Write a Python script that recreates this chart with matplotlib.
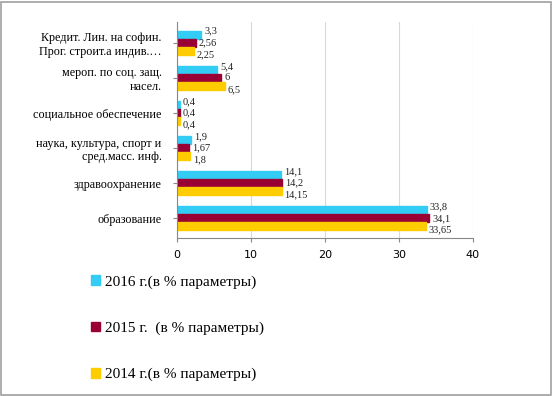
import matplotlib.pyplot as plt
import numpy as np
from matplotlib.patches import Rectangle

categories = ["образование", "здравоохранение",
              "наука, культура, спорт и\nсред.масс. инф.",
              "социальное обеспечение",
              "мероп. по соц. защ.\nнасел.",
              "Кредит. Лин. на софин.\nПрог. строит.а индив.…"]
v2016 = [33.8, 14.1, 1.9, 0.4, 5.4, 3.3]
v2015 = [34.1, 14.2, 1.67, 0.4, 6, 2.56]
v2014 = [33.65, 14.15, 1.8, 0.4, 6.5, 2.25]
series = [("2016 г.(в % параметры)", v2016, "#33CCF5"),
          ("2015 г.  (в % параметры)", v2015, "#990033"),
          ("2014 г.(в % параметры)", v2014, "#FFCC00")]

serif = "Liberation Serif"

fig = plt.figure(figsize=(5.53, 3.96), dpi=100)
fig.patches.append(Rectangle((0.002, 0.003), 0.995, 0.993, transform=fig.transFigure,
                             fill=False, edgecolor="#A0A0A0", linewidth=1.2))
ax = fig.add_axes([0.32, 0.40, 0.535, 0.545])

y = np.arange(len(categories))
h = 0.23
offsets = [h, 0, -h]
label_shift = [0.1, 0, -0.1]
for (lab, vals, col), off, sh in zip(series, offsets, label_shift):
    bars = ax.barh(y + off, vals, height=h, color=col, edgecolor=col, label=lab)
    for b, v in zip(bars, vals):
        txt = ("%g" % v).replace(".", ",")
        ax.text(b.get_width() + 0.4, b.get_y() + b.get_height() / 2 + sh, txt,
                va="center", ha="left", fontsize=7.5, family=serif, color="#222222")

ax.set_xlim(0, 40)
ax.set_ylim(-0.55, 5.6)
ax.set_xticks([0, 10, 20, 30, 40])
ax.set_yticks(y)
ax.set_yticklabels(categories, family=serif, fontsize=8.7)
ax.tick_params(axis="y", length=3, color="#888888", pad=8)
ax.tick_params(axis="x", length=3, color="#888888", labelsize=8, pad=6)
ax.grid(axis="x", color="#D9D9D9", linewidth=0.8)
ax.set_axisbelow(True)
for s in ["top", "right"]:
    ax.spines[s].set_visible(False)
for s in ["left", "bottom"]:
    ax.spines[s].set_color("#888888")

fig.legend(loc="upper left", bbox_to_anchor=(0.14, 0.34), frameon=False,
           prop={"family": serif, "size": 11}, handlelength=0.6, handleheight=0.6,
           labelspacing=2.15, handletextpad=0.3)

plt.savefig("out.png", dpi=100)
